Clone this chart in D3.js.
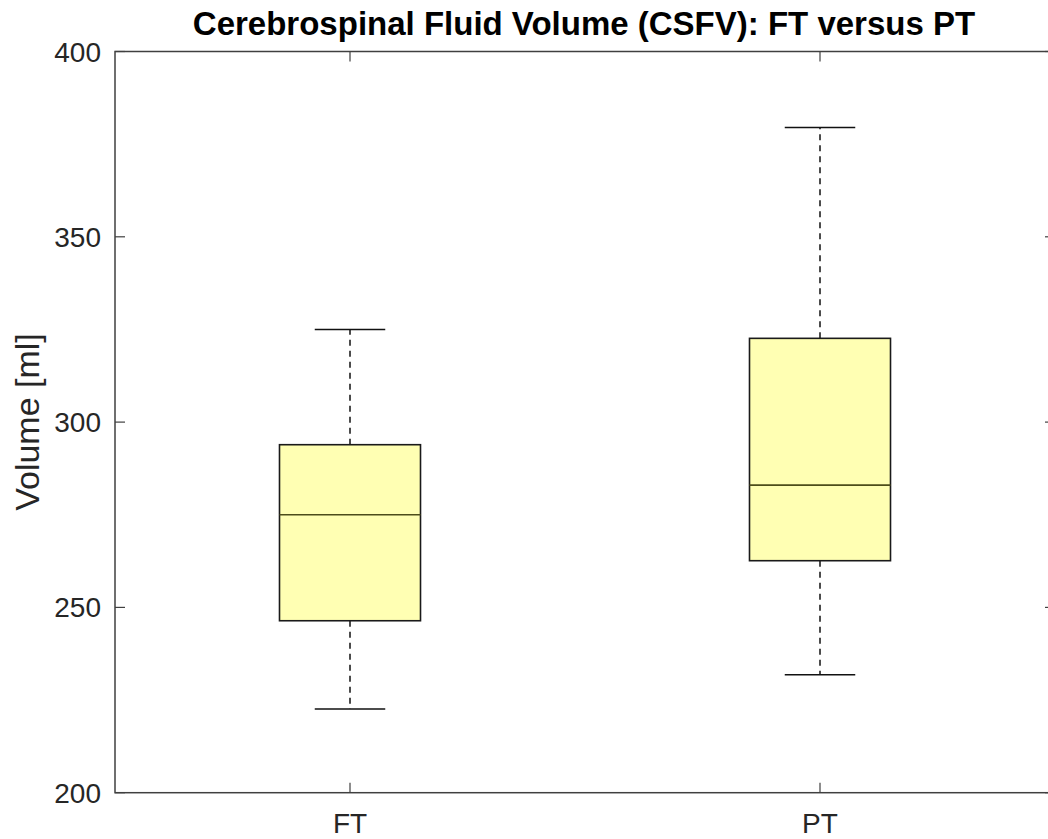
<!DOCTYPE html>
<html>
<head>
<meta charset="utf-8">
<script src="https://cdn.jsdelivr.net/npm/d3@7"></script>
<style>
  body { margin: 0; background: #fff; }
  svg { font-family: "Liberation Sans", Arial, Helvetica, sans-serif; }
</style>
</head>
<body>
<svg id="chart" width="1048" height="839"></svg>
<script>
// data
var groups = ["FT", "PT"];
var lowerWhisker = [222.6, 231.8];
var q1 = [246.4, 262.6];
var median = [275.0, 283.0];
var q3 = [293.9, 322.6];
var upperWhisker = [325.0, 379.5];
var yTicks = [200, 250, 300, 350, 400];

var svg = d3.select("#chart");
// note: "top" is a read-only global in browsers, so use other names
var plotLeft = 115, plotRight = 1055, plotTop = 51.5, plotBottom = 792.7;
var axisColor = "#404040";

// groups sit at positions 1 and 2, xlim is [0.5, 2.5]
var x = d3.scaleLinear().domain([0.5, 2.5]).range([plotLeft, plotRight]);
var y = d3.scaleLinear().domain([200, 400]).range([plotBottom, plotTop]);

var boxW = 0.3, capW = 0.15;

// axes frame
svg.append("rect").attr("x", plotLeft).attr("y", plotTop)
    .attr("width", plotRight - plotLeft).attr("height", plotBottom - plotTop)
    .attr("fill", "none").attr("stroke", axisColor).attr("stroke-width", 1.5);

// y ticks left and right
yTicks.forEach(function (t) {
    svg.append("line").attr("x1", plotLeft).attr("x2", plotLeft + 10)
        .attr("y1", y(t)).attr("y2", y(t)).attr("stroke", axisColor).attr("stroke-width", 1.2);
    svg.append("line").attr("x1", plotRight).attr("x2", plotRight - 10)
        .attr("y1", y(t)).attr("y2", y(t)).attr("stroke", axisColor).attr("stroke-width", 1.2);
    svg.append("text").attr("x", plotLeft - 14).attr("y", y(t) + 10)
        .attr("text-anchor", "end").attr("font-size", 28).attr("fill", "#262626").text(t);
});

// x ticks top and bottom
groups.forEach(function (g, i) {
    var cx = x(i + 1);
    svg.append("line").attr("x1", cx).attr("x2", cx).attr("y1", plotBottom).attr("y2", plotBottom - 10)
        .attr("stroke", axisColor).attr("stroke-width", 1.2);
    svg.append("line").attr("x1", cx).attr("x2", cx).attr("y1", plotTop).attr("y2", plotTop + 10)
        .attr("stroke", axisColor).attr("stroke-width", 1.2);
    svg.append("text").attr("x", cx).attr("y", 833)
        .attr("text-anchor", "middle").attr("font-size", 28).attr("fill", "#262626").text(g);
});

// boxes
groups.forEach(function (g, i) {
    var p = i + 1;
    var cx = x(p);
    // whiskers dashed
    svg.append("line").attr("x1", cx).attr("x2", cx).attr("y1", y(q3[i])).attr("y2", y(upperWhisker[i]))
        .attr("stroke", "#111").attr("stroke-width", 1.5).attr("stroke-dasharray", "6,5");
    svg.append("line").attr("x1", cx).attr("x2", cx).attr("y1", y(q1[i])).attr("y2", y(lowerWhisker[i]))
        .attr("stroke", "#111").attr("stroke-width", 1.5).attr("stroke-dasharray", "6,5");
    // caps
    svg.append("line").attr("x1", x(p - capW / 2)).attr("x2", x(p + capW / 2))
        .attr("y1", y(upperWhisker[i])).attr("y2", y(upperWhisker[i]))
        .attr("stroke", "#111").attr("stroke-width", 1.5);
    svg.append("line").attr("x1", x(p - capW / 2)).attr("x2", x(p + capW / 2))
        .attr("y1", y(lowerWhisker[i])).attr("y2", y(lowerWhisker[i]))
        .attr("stroke", "#111").attr("stroke-width", 1.5);
    // box
    svg.append("rect").attr("x", x(p - boxW / 2)).attr("y", y(q3[i]))
        .attr("width", x(p + boxW / 2) - x(p - boxW / 2)).attr("height", y(q1[i]) - y(q3[i]))
        .attr("fill", "#ffffb3").attr("stroke", "#1a1a1a").attr("stroke-width", 1.6);
    // median
    svg.append("line").attr("x1", x(p - boxW / 2)).attr("x2", x(p + boxW / 2))
        .attr("y1", y(median[i])).attr("y2", y(median[i]))
        .attr("stroke", "#4d4d1a").attr("stroke-width", 1.6);
});

// y label
svg.append("text").attr("transform", "translate(39,422) rotate(-90)")
    .attr("text-anchor", "middle").attr("font-size", 34).attr("fill", "#262626").text("Volume [ml]");

// title
svg.append("text").attr("x", (plotLeft + plotRight) / 2 - 1).attr("y", 35)
    .attr("text-anchor", "middle").attr("font-size", 33).attr("font-weight", "bold")
    .attr("fill", "#000").text("Cerebrospinal Fluid Volume (CSFV): FT versus PT");
</script>
</body>
</html>
